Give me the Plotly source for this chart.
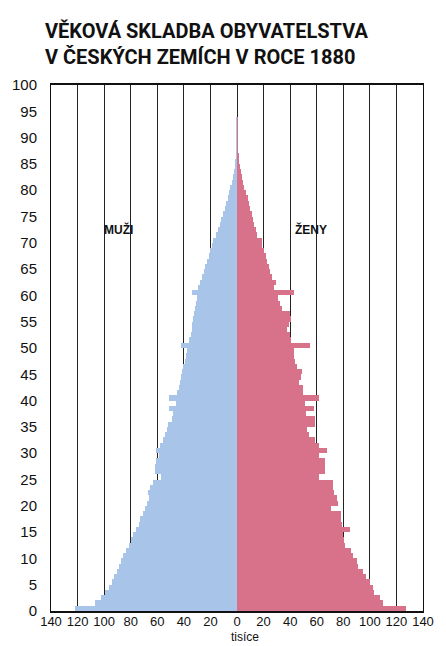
import plotly.graph_objects as go

ages = list(range(0, 94))

males = [122, 107, 102, 99, 96, 94, 92.5, 90, 89, 87,
         86, 83.5, 81.5, 79.5, 78.5, 76, 74, 73, 70.5, 69,
         67.5, 66.5, 67, 65.5, 63, 57, 62, 61.5, 61, 59,
         61, 58, 56, 54.5, 53, 52, 49, 48, 51, 46,
         51, 45, 44, 43, 42.5, 41.5, 41, 39.5, 38.5, 38,
         42, 36, 35, 34, 33.5, 33, 32.5, 31.5, 31, 30,
         33.5, 29, 28, 26.5, 25, 24, 22.5, 21, 20, 19,
         18, 16, 14.5, 13, 12, 10.5, 9, 8, 7, 6,
         5, 4, 3, 2.2, 1.5, 1, 0.7, 0.5, 0.4, 0.3,
         0.2, 0.15, 0.1, 0.1]

females = [127, 110, 108, 103, 102, 100, 97, 95, 91, 90,
           87, 86, 81, 80.5, 80, 85, 79, 78, 78, 71,
           76, 75, 73, 72, 72, 62, 66, 66, 66, 62,
           68, 62, 59, 54, 53, 59, 59, 52, 58, 51,
           62, 50, 50, 47, 48, 49, 45, 44, 43, 43,
           55, 41, 40, 38, 39, 41, 40, 34, 32, 31,
           43, 28, 29, 26, 25, 24, 22.5, 21.5, 20, 19,
           18.5, 15, 14, 13, 12, 11, 10, 9, 8, 7,
           5.5, 4.5, 3.5, 2.7, 2, 1.5, 1.0, 0.7, 0.5, 0.4,
           0.3, 0.2, 0.15, 0.1]

x_ticks = [-140, -120, -100, -80, -60, -40, -20, 0, 20, 40, 60, 80, 100, 120, 140]
x_tick_labels = [str(abs(v)) for v in x_ticks]
y_ticks = list(range(0, 101, 5))

title_text = "VĚKOVÁ SKLADBA OBYVATELSTVA<br>V ČESKÝCH ZEMÍCH V ROCE 1880"
male_label = "MUŽI"
female_label = "ŽENY"
x_title = "tisíce"

BLUE = "#a8c4e8"
PINK = "#d7728a"
FONT = "Liberation Sans, Arial, sans-serif"
TITLE_FONT = "Roboto, Liberation Sans, Arial, sans-serif"

fig = go.Figure()
fig.add_trace(go.Bar(
    y=[a + 0.5 for a in ages], x=[-v for v in males], orientation="h",
    width=1.0, marker=dict(color=BLUE, line=dict(width=0)), name=male_label,
    hoverinfo="skip"))
fig.add_trace(go.Bar(
    y=[a + 0.5 for a in ages], x=females, orientation="h",
    width=1.0, marker=dict(color=PINK, line=dict(width=0)), name=female_label,
    hoverinfo="skip"))

fig.update_layout(
    width=446, height=646,
    margin=dict(l=49, r=16, t=85, b=35),
    paper_bgcolor="white", plot_bgcolor="white",
    barmode="overlay", bargap=0, showlegend=False,
    font=dict(family=FONT, color="#111"),
)
fig.update_xaxes(
    range=[-140, 140], tickvals=x_ticks, ticktext=x_tick_labels,
    showgrid=True, gridcolor="#222", gridwidth=1, zeroline=False,
    showline=True, linecolor="#111", linewidth=2, mirror=True,
    ticks="", ticklabelstandoff=-3,
    tickfont=dict(size=13, family=FONT, color="#111"),
    fixedrange=True,
)
fig.update_yaxes(
    range=[0, 100], tickvals=y_ticks,
    showgrid=False, zeroline=False,
    showline=True, linecolor="#111", linewidth=1, mirror=True,
    ticks="outside", ticklen=10, tickcolor="rgba(0,0,0,0)",
    tickfont=dict(size=15, family=FONT, color="#111"),
    fixedrange=True,
)

# title (two lines, left aligned)
fig.add_annotation(x=(41 - 49) / 381, xref="paper", xanchor="left",
                   y=1 + (85 - 17) / 526, yref="paper", yanchor="top",
                   text=title_text, showarrow=False, align="left",
                   font=dict(family=TITLE_FONT, size=20, color="#111", weight="bold"))
fig.add_annotation(x=-89, y=72.5, text=male_label, showarrow=False,
                   font=dict(family=FONT, size=12, color="#111", weight="bold"))
fig.add_annotation(x=56, y=72.5, text=female_label, showarrow=False,
                   font=dict(family=FONT, size=12, color="#111", weight="bold"))
fig.add_annotation(x=6, xref="x", y=-(645 - 611) / 526, yref="paper", text=x_title,
                   showarrow=False, yanchor="bottom", borderpad=0,
                   font=dict(family=FONT, size=12, color="#111"))

fig.write_html("out.html", config={"displayModeBar": False},
               post_script="document.body.style.margin='0px';")
